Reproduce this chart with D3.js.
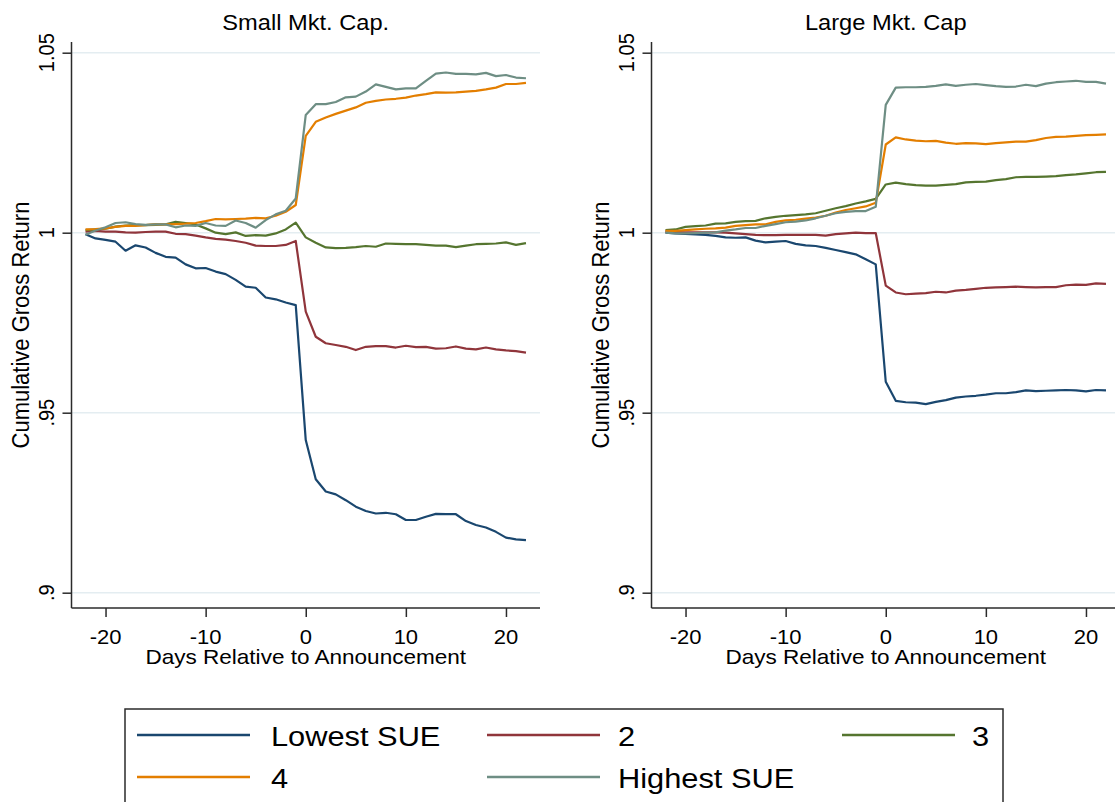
<!DOCTYPE html>
<html>
<head>
<meta charset="utf-8">
<script src="https://cdn.jsdelivr.net/npm/d3@7"></script>
<style>
  html, body { margin: 0; padding: 0; background: #fff; }
  svg { display: block; font-family: "Liberation Sans", Arial, sans-serif; }
</style>
</head>
<body>
<svg id="chart" width="1115" height="802"></svg>
<script>
// Event window (days relative to the earnings announcement)
const days = [-22,-21,-20,-19,-18,-17,-16,-15,-14,-13,-12,-11,-10,-9,-8,-7,-6,-5,-4,-3,-2,-1,
              0,1,2,3,4,5,6,7,8,9,10,11,12,13,14,15,16,17,18,19,20,21,22];

// Small market-cap firms: cumulative gross return by SUE quintile
const smallLowest = [0.9996,0.9984,0.9980,0.9975,0.9950,0.9965,0.9959,0.9944,0.9933,0.9931,0.9912,0.9901,0.9902,0.9892,0.9885,0.9869,0.9850,0.9847,0.9820,0.9815,0.9806,0.9799,
  0.9424,0.9315,0.9281,0.9273,0.9257,0.9239,0.9227,0.9220,0.9222,0.9218,0.9202,0.9202,0.9211,0.9219,0.9218,0.9218,0.9199,0.9188,0.9181,0.9169,0.9153,0.9148,0.9146];
const smallQ2 = [1.0003,1.0005,1.0003,1.0003,1.0001,1.0000,1.0002,1.0003,1.0003,0.9997,0.9996,0.9992,0.9987,0.9983,0.9981,0.9977,0.9972,0.9964,0.9963,0.9963,0.9966,0.9977,
  0.9781,0.9711,0.9693,0.9688,0.9683,0.9674,0.9683,0.9685,0.9685,0.9681,0.9686,0.9682,0.9683,0.9678,0.9679,0.9684,0.9678,0.9676,0.9681,0.9676,0.9673,0.9671,0.9667];
const smallQ3 = [1.0007,1.0009,1.0011,1.0017,1.0020,1.0021,1.0021,1.0022,1.0023,1.0030,1.0027,1.0023,1.0012,1.0000,0.9996,1.0001,0.9991,0.9993,0.9992,0.9998,1.0009,1.0028,
  0.9987,0.9972,0.9959,0.9957,0.9958,0.9960,0.9963,0.9961,0.9970,0.9969,0.9968,0.9968,0.9966,0.9964,0.9964,0.9960,0.9964,0.9968,0.9969,0.9970,0.9973,0.9966,0.9971];
const smallQ4 = [1.0009,1.0010,1.0012,1.0016,1.0019,1.0019,1.0021,1.0024,1.0023,1.0024,1.0025,1.0027,1.0032,1.0038,1.0037,1.0038,1.0039,1.0041,1.0040,1.0047,1.0058,1.0077,
  1.0269,1.0308,1.0320,1.0330,1.0339,1.0348,1.0361,1.0366,1.0370,1.0372,1.0375,1.0381,1.0385,1.0390,1.0389,1.0390,1.0392,1.0394,1.0398,1.0403,1.0413,1.0413,1.0416];
const smallHighest = [0.9994,1.0006,1.0015,1.0027,1.0029,1.0024,1.0022,1.0023,1.0023,1.0015,1.0020,1.0019,1.0027,1.0020,1.0019,1.0034,1.0027,1.0014,1.0035,1.0051,1.0061,1.0095,
  1.0327,1.0357,1.0357,1.0363,1.0376,1.0378,1.0392,1.0412,1.0405,1.0398,1.0401,1.0401,1.0422,1.0442,1.0445,1.0441,1.0441,1.0440,1.0444,1.0435,1.0438,1.0431,1.0429];

// Large market-cap firms
const largeLowest = [1.0000,0.9998,0.9997,0.9995,0.9994,0.9991,0.9987,0.9986,0.9987,0.9978,0.9973,0.9975,0.9977,0.9969,0.9965,0.9963,0.9958,0.9952,0.9946,0.9940,0.9926,0.9912,
  0.9586,0.9533,0.9529,0.9528,0.9524,0.9530,0.9535,0.9542,0.9545,0.9547,0.9550,0.9554,0.9554,0.9557,0.9562,0.9560,0.9561,0.9562,0.9563,0.9562,0.9559,0.9563,0.9562];
const largeQ2 = [1.0003,1.0002,1.0001,1.0001,1.0001,1.0001,1.0000,0.9998,0.9996,0.9994,0.9993,0.9993,0.9994,0.9994,0.9994,0.9994,0.9992,0.9996,0.9998,1.0000,0.9999,0.9999,
  0.9853,0.9834,0.9829,0.9831,0.9832,0.9836,0.9834,0.9839,0.9841,0.9844,0.9847,0.9848,0.9849,0.9850,0.9849,0.9848,0.9849,0.9849,0.9854,0.9856,0.9855,0.9859,0.9858];
const largeQ3 = [1.0007,1.0009,1.0016,1.0018,1.0020,1.0025,1.0026,1.0030,1.0032,1.0033,1.0040,1.0044,1.0047,1.0049,1.0051,1.0054,1.0061,1.0068,1.0074,1.0081,1.0087,1.0094,
  1.0134,1.0139,1.0135,1.0132,1.0131,1.0131,1.0133,1.0135,1.0140,1.0141,1.0142,1.0146,1.0149,1.0154,1.0155,1.0155,1.0156,1.0157,1.0160,1.0162,1.0165,1.0168,1.0169];
const largeQ4 = [1.0005,1.0005,1.0007,1.0009,1.0011,1.0012,1.0014,1.0019,1.0021,1.0023,1.0023,1.0030,1.0034,1.0036,1.0039,1.0042,1.0047,1.0056,1.0063,1.0068,1.0073,1.0083,
  1.0245,1.0265,1.0259,1.0256,1.0254,1.0255,1.0250,1.0247,1.0249,1.0248,1.0246,1.0249,1.0251,1.0253,1.0253,1.0257,1.0263,1.0266,1.0267,1.0269,1.0271,1.0272,1.0273];
const largeHighest = [1.0000,0.9998,0.9998,0.9999,1.0000,1.0001,1.0006,1.0009,1.0013,1.0013,1.0019,1.0024,1.0029,1.0031,1.0034,1.0040,1.0047,1.0054,1.0058,1.0060,1.0060,1.0072,
  1.0355,1.0403,1.0404,1.0404,1.0405,1.0408,1.0412,1.0408,1.0411,1.0413,1.0410,1.0407,1.0405,1.0406,1.0411,1.0407,1.0414,1.0418,1.0420,1.0422,1.0419,1.0419,1.0414];

const seriesNames = ["Lowest SUE", "2", "3", "4", "Highest SUE"];
const seriesColors = ["#1a476f", "#90353b", "#55752f", "#e37e00", "#6e8e84"];
const panelTitles = ["Small Mkt. Cap.", "Large Mkt. Cap"];
const panelSeries = [
  [smallLowest, smallQ2, smallQ3, smallQ4, smallHighest],
  [largeLowest, largeQ2, largeQ3, largeQ4, largeHighest]
];
const xTicks = [-20, -10, 0, 10, 20];
const yTicks = [0.9, 0.95, 1, 1.05];
const yTickLabels = [".9", ".95", "1", "1.05"];
const xTitle = "Days Relative to Announcement";
const yTitle = "Cumulative Gross Return";

const svg = d3.select("#chart");
const STRETCH = 1.1;          // glyphs are drawn slightly wide
const axisColor = "#2b2b2b";
const gridColor = "#e4edf1";

const plotTop = 42, plotBottom = 608;
const y = d3.scaleLinear().domain([0.9, 1.05]).range([592.7, 52.7]);

function stretchedText(g, x, yPos, str, size, anchor, rotate) {
  return g.append("text")
    .attr("transform", `translate(${x},${yPos}) scale(${STRETCH},1)` + (rotate ? ` rotate(${rotate})` : ""))
    .attr("text-anchor", anchor)
    .attr("font-size", size)
    .attr("fill", "#000")
    .text(str);
}

panelSeries.forEach((series, p) => {
  const off = p * 580;
  const x = d3.scaleLinear().domain([-23.4, 23.4]).range([71.5 + off, 540 + off]);
  const g = svg.append("g");

  // horizontal gridlines
  g.selectAll("line.grid").data(yTicks).enter().append("line")
    .attr("x1", x.range()[0]).attr("x2", x.range()[1])
    .attr("y1", d => y(d)).attr("y2", d => y(d))
    .attr("stroke", gridColor).attr("stroke-width", 1.5);

  // y axis
  const yAxis = d3.axisLeft(y).tickValues(yTicks).tickSize(9).tickFormat("");
  const ya = g.append("g").attr("transform", `translate(${x.range()[0]},0)`).call(yAxis);
  ya.select(".domain").remove();
  ya.selectAll(".tick line").attr("stroke", axisColor).attr("stroke-width", 1.5);
  g.append("line")
    .attr("x1", x.range()[0]).attr("x2", x.range()[0])
    .attr("y1", plotTop).attr("y2", plotBottom)
    .attr("stroke", axisColor).attr("stroke-width", 1.5);
  yTicks.forEach((t, i) => {
    stretchedText(g, x.range()[0] - 18, y(t), yTickLabels[i], 20, "middle", -90);
  });

  // x axis
  const xAxis = d3.axisBottom(x).tickValues(xTicks).tickSize(9).tickFormat("");
  const xa = g.append("g").attr("transform", `translate(0,${plotBottom})`).call(xAxis);
  xa.select(".domain").remove();
  xa.selectAll(".tick line").attr("stroke", axisColor).attr("stroke-width", 1.5);
  g.append("line")
    .attr("x1", x.range()[0]).attr("x2", x.range()[1])
    .attr("y1", plotBottom).attr("y2", plotBottom)
    .attr("stroke", axisColor).attr("stroke-width", 1.5);
  xTicks.forEach(t => {
    stretchedText(g, x(t), 644, String(t).replace("-", "-"), 20, "middle");
  });

  // titles
  const cx = (x.range()[0] + x.range()[1]) / 2;
  stretchedText(g, cx, 29.5, panelTitles[p], 21.5, "middle");
  stretchedText(g, cx, 664, xTitle, 20.5, "middle");
  stretchedText(g, 29 + off, (plotTop + plotBottom) / 2, yTitle, 22, "middle", -90);

  // series lines
  const line = d3.line().x((d, i) => x(days[i])).y(d => y(d));
  series.forEach((vals, s) => {
    g.append("path")
      .datum(vals)
      .attr("d", line)
      .attr("fill", "none")
      .attr("stroke", seriesColors[s])
      .attr("stroke-width", 2.2)
      .attr("stroke-linejoin", "round");
  });
});

// legend
const lg = svg.append("g");
lg.append("rect")
  .attr("x", 125).attr("y", 709).attr("width", 878).attr("height", 130)
  .attr("fill", "#fff").attr("stroke", axisColor).attr("stroke-width", 1.5);
const legendSlots = [
  { lx: 137, ly: 735, tx: 271, ty: 746 },
  { lx: 487, ly: 735, tx: 618, ty: 746 },
  { lx: 842, ly: 735, tx: 972, ty: 746 },
  { lx: 137, ly: 777, tx: 271, ty: 788 },
  { lx: 487, ly: 777, tx: 618, ty: 788 }
];
seriesNames.forEach((name, i) => {
  const s = legendSlots[i];
  lg.append("line")
    .attr("x1", s.lx).attr("x2", s.lx + 113)
    .attr("y1", s.ly).attr("y2", s.ly)
    .attr("stroke", seriesColors[i]).attr("stroke-width", 2.6);
  stretchedText(lg, s.tx, s.ty, name, 28, "start");
});
</script>
</body>
</html>
